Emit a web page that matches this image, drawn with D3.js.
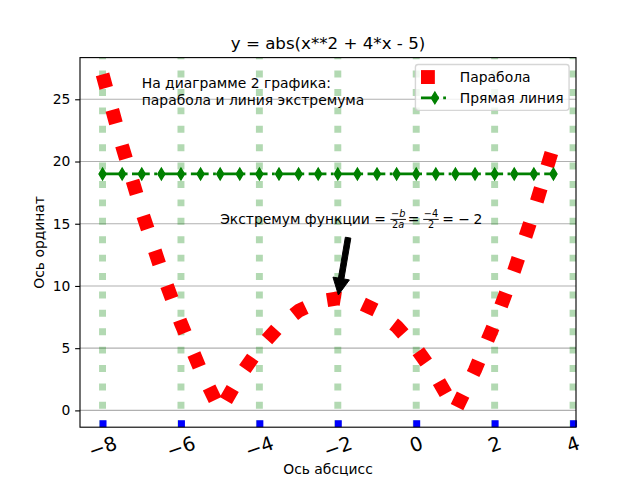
<!DOCTYPE html>
<html><head><meta charset="utf-8">
<script src="https://cdn.jsdelivr.net/npm/d3@7"></script>
<style>body{margin:0;background:#fff} svg{display:block} text{font-family:"DejaVu Sans",sans-serif;fill:#000}</style>
</head><body><svg id="c" width="640" height="480"></svg>
<script>
// ---- data ----
const xValues = [-8,-7.5,-7,-6.5,-6,-5.5,-5,-4.5,-4,-3.5,-3,-2.5,-2,-1.5,-1,-0.5,0,0.5,1,1.5,2,2.5,3,3.5];
const parabolaValues = [27,21.25,16,11.25,7,3.25,0,2.75,5,6.75,8,8.75,9,8.75,8,6.75,5,2.75,0,3.25,7,11.25,16,21.25];
const lineValues = [19,19,19,19,19,19,19,19,19,19,19,19,19,19,19,19,19,19,19,19,19,19,19,19];
const xTicks = [-8,-6,-4,-2,0,2,4];
const yTicks = [0,5,10,15,20,25];
const seriesNames = ["Парабола","Прямая линия"];
const titleText = "y = abs(x**2 + 4*x - 5)";
const xLabel = "Ось абсцисс";
const yLabel = "Ось ординат";
const noteLines = ["На диаграмме 2 графика:","парабола и линия экстремума"];
const notePos = [-7, 25.9];
const annotPoint = [-2, 9];
const annotText = [-5, 15];

// ---- layout ----
const pt = 100/72;
const L=80,R=576,T=57.6,B=427.2;
const fs = 10*pt;
const svg = d3.select("#c");
const x = d3.scaleLinear().domain([-8.575,4.075]).range([L,R]);
const y = d3.scaleLinear().domain([-1.35,28.35]).range([B,T]);
const fmt = v => (v<0?"\u2212":"")+Math.abs(v);

svg.append("defs").append("clipPath").attr("id","clip").append("rect")
  .attr("x",L).attr("y",T).attr("width",R-L).attr("height",B-T);
const plot = svg.append("g").attr("clip-path","url(#clip)");

// grids
plot.selectAll(".yg").data(yTicks).join("line").attr("class","yg")
  .attr("x1",L).attr("x2",R).attr("y1",d=>y(d)).attr("y2",d=>y(d))
  .attr("stroke","#b0b0b0").attr("stroke-width",0.8*pt);
plot.selectAll(".xg").data(xTicks).join("line").attr("class","xg")
  .attr("x1",d=>x(d)).attr("x2",d=>x(d)).attr("y1",B).attr("y2",T)
  .attr("stroke","green").attr("stroke-opacity",0.3).attr("stroke-width",5*pt)
  .attr("stroke-dasharray",`${5*pt} ${8.25*pt}`);

// parabola
const line = d3.line().x(d=>x(d[0])).y(d=>y(d[1]));
plot.append("path").attr("d", line(xValues.map((v,i)=>[v,parabolaValues[i]])))
  .attr("fill","none").attr("stroke","red").attr("stroke-width",10*pt)
  .attr("stroke-dasharray",`${10*pt} ${16.5*pt}`).attr("stroke-linejoin","round");

// straight line
const dashDot = [6.4,1.6,1,1.6].map(v=>v*2*pt).join(" ");
plot.append("path").attr("d", line(xValues.map((v,i)=>[v,lineValues[i]])))
  .attr("fill","none").attr("stroke","green").attr("stroke-width",2*pt)
  .attr("stroke-dasharray",dashDot);
const dh = 6*pt*0.7071, dw = dh*0.6;
const diamond = `M0,${-dh}L${dw},0L0,${dh}L${-dw},0Z`;
plot.selectAll(".mk").data(xValues.map((v,i)=>[v,lineValues[i]])).join("path").attr("class","mk")
  .attr("transform",d=>`translate(${x(d[0])},${y(d[1])})`).attr("d",diamond)
  .attr("fill","green").attr("stroke","green").attr("stroke-width",1*pt);

// y axis
const ya = svg.append("g").attr("transform",`translate(${L},0)`)
  .call(d3.axisLeft(y).tickValues(yTicks).tickSize(3.5*pt).tickPadding(3.5*pt).tickFormat(fmt));
ya.select(".domain").remove();
ya.attr("font-family",null).attr("font-size",null);
ya.selectAll("line").attr("stroke","#000").attr("stroke-width",0.8*pt);
ya.selectAll("text").style("font-size",fs+"px");

// x axis
const xa = svg.append("g").attr("transform",`translate(0,${B})`)
  .call(d3.axisBottom(x).tickValues(xTicks).tickSize(-5*pt).tickFormat(fmt));
xa.select(".domain").remove();
xa.attr("font-family",null).attr("font-size",null);
xa.selectAll("line").attr("stroke","blue").attr("stroke-width",5*pt);
const xfs = 14*pt, rot = 20, rr = rot*Math.PI/180;
xa.selectAll("text").style("font-size",xfs+"px").attr("y",null).attr("dy",null)
  .attr("text-anchor","middle")
  .each(function(){
    const w = this.getComputedTextLength();
    const h = 0.968*xfs;
    const bh = w*Math.sin(rr)+h*Math.cos(rr);
    const cy = 3.5*pt + bh/2 + 2.5;
    d3.select(this).attr("transform",`translate(0,${cy}) rotate(${-rot})`).attr("y",0.276*xfs);
  });

// spines
svg.append("rect").attr("x",L).attr("y",T).attr("width",R-L).attr("height",B-T)
  .attr("fill","none").attr("stroke","#000").attr("stroke-width",0.8*pt);

// title & labels
svg.append("text").attr("x",(L+R)/2).attr("y",T-6*pt).attr("text-anchor","middle")
  .style("font-size",(12*pt)+"px").text(titleText);
svg.append("text").attr("x",(L+R)/2).attr("y",474).attr("text-anchor","middle")
  .style("font-size",fs+"px").text(xLabel);
svg.append("text").attr("transform",`translate(44,${(T+B)/2}) rotate(-90)`).attr("text-anchor","middle")
  .style("font-size",fs+"px").text(yLabel);

// note text
const note = svg.append("text").style("font-size",fs+"px");
noteLines.forEach((s,i)=>note.append("tspan").attr("x",x(notePos[0])).attr("y",y(notePos[1])+i*1.2*fs).text(s));

// annotation
const ax0 = x(annotText[0]), ay0 = y(annotText[1]);
const ag = svg.append("g");
ag.append("text").attr("x",ax0).attr("y",ay0).style("font-size",fs+"px").text("Экстремум функции =");
const sfs = fs*0.7;
function frac(cx, num, den, bw){
  const nt = ag.append("text").attr("x",ax0+cx).attr("y",ay0-6.6).attr("text-anchor","middle").style("font-size",sfs+"px");
  num.forEach(p=>nt.append("tspan").style("font-style",p[1]?"italic":"normal").text(p[0]));
  const dt = ag.append("text").attr("x",ax0+cx).attr("y",ay0+4).attr("text-anchor","middle").style("font-size",sfs+"px");
  den.forEach(p=>dt.append("tspan").style("font-style",p[1]?"italic":"normal").text(p[0]));
  ag.append("line").attr("x1",ax0+cx-bw/2).attr("x2",ax0+cx+bw/2).attr("y1",ay0-4.3).attr("y2",ay0-4.3)
    .attr("stroke","#000").attr("stroke-width",0.9);
}
function sym(cx, s){
  ag.append("text").attr("x",ax0+cx).attr("y",ay0).attr("text-anchor","middle").style("font-size",fs+"px").text(s);
}
frac(178, [["\u2212",0],["b",1]], [["2",0],["a",1]], 15.5);
sym(193.3, "=");
frac(210.8, [["\u2212",0],["4",0]], [["2",0]], 15.5);
sym(227.8, "=");
sym(243.8, "\u2212");
sym(257.8, "2");

// arrow
const bb = ag.node().getBBox();
const tc = [bb.x+bb.width/2, bb.y+bb.height/2];
const pp = [x(annotPoint[0]), y(annotPoint[1])];
let dx = pp[0]-tc[0], dy = pp[1]-tc[1];
const len = Math.hypot(dx,dy); dx/=len; dy/=len;
const tail = [tc[0]+dx*19, tc[1]+dy*19];
const tip = [pp[0]-dx*3.5, pp[1]-dy*3.5];
const tw = 4*pt/2, hw = 12*pt/2, hl = 12*pt;
const nx = -dy, ny = dx;
const hb = [tip[0]-dx*hl, tip[1]-dy*hl];
const poly = [
  [tail[0]+nx*tw, tail[1]+ny*tw],[hb[0]+nx*tw, hb[1]+ny*tw],[hb[0]+nx*hw, hb[1]+ny*hw],
  tip,[hb[0]-nx*hw, hb[1]-ny*hw],[hb[0]-nx*tw, hb[1]-ny*tw],[tail[0]-nx*tw, tail[1]-ny*tw]];
svg.append("path").attr("d","M"+poly.map(p=>p.join(",")).join("L")+"Z").attr("fill","#000").attr("stroke","#000").attr("stroke-width",1);

// legend
const lg = svg.append("g");
const tmp = lg.append("text").style("font-size",fs+"px").text(seriesNames[1]);
const tw2 = Math.max(tmp.node().getComputedTextLength(), 0); tmp.remove();
const bp = 0.4*fs, hlen = 2*fs, htp = 0.8*fs, ls = 0.5*fs;
const lw = bp+hlen+htp+tw2+bp, lh = 2*bp+2*fs+ls;
const lx = R-0.5*fs-lw, ly = T+0.5*fs;
lg.append("rect").attr("x",lx).attr("y",ly).attr("width",lw).attr("height",lh).attr("rx",0.2*fs)
  .attr("fill","#fff").attr("fill-opacity",0.8).attr("stroke","#ccc").attr("stroke-opacity",0.8).attr("stroke-width",1*pt);
seriesNames.forEach((name,i)=>{
  const cy = ly+bp+fs/2+i*(fs+ls);
  const x0 = lx+bp;
  if(i===0){
    lg.append("line").attr("x1",x0).attr("x2",x0+hlen).attr("y1",cy).attr("y2",cy)
      .attr("stroke","red").attr("stroke-width",10*pt).attr("stroke-dasharray",`${10*pt} ${16.5*pt}`);
  } else {
    lg.append("line").attr("x1",x0).attr("x2",x0+hlen).attr("y1",cy).attr("y2",cy)
      .attr("stroke","green").attr("stroke-width",2*pt).attr("stroke-dasharray",dashDot);
    lg.append("path").attr("transform",`translate(${x0+hlen/2},${cy})`).attr("d",diamond)
      .attr("fill","green").attr("stroke","green").attr("stroke-width",1*pt);
  }
  lg.append("text").attr("x",x0+hlen+htp).attr("y",cy).attr("dy","0.35em").style("font-size",fs+"px").text(name);
});
</script></body></html>
